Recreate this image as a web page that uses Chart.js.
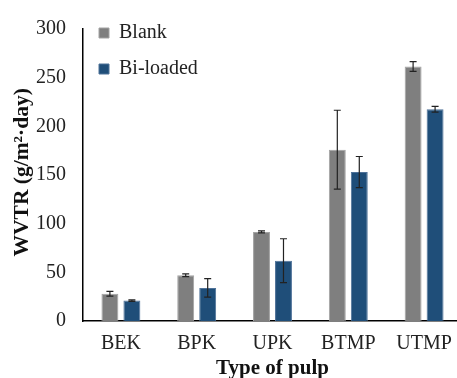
<!DOCTYPE html>
<html>
<head>
<meta charset="utf-8">
<script src="https://cdn.jsdelivr.net/npm/chart.js@4"></script>
<style>
  html, body { margin: 0; padding: 0; background: #fff; overflow: hidden; }
  #box { width: 465px; height: 378px; }
</style>
</head>
<body>
<div id="box"><canvas id="myChart" width="465" height="378"></canvas></div>
<script>
var pulps = ["BEK", "BPK", "UPK", "BTMP", "UTMP"];
var blank = [28, 47, 91.5, 176, 261.5];
var blankErr = [2.5, 1.5, 1, 40.5, 5];
var biLoaded = [21, 34, 62, 153, 217.5];
var biErr = [0.8, 9.5, 22.5, 16, 3];
var yTicks = [0, 50, 100, 150, 200, 250, 300];

var serif = "'Liberation Serif', 'Times New Roman', serif";
var errs = [blankErr, biErr];

// error bars drawn over the bars
var errorBars = {
  id: "errorBars",
  afterDatasetsDraw: function(chart) {
    var ctx = chart.ctx;
    var y = chart.scales.y;
    ctx.save();
    ctx.strokeStyle = "#222";
    ctx.lineWidth = 1.2;
    chart.data.datasets.forEach(function(ds, d) {
      var meta = chart.getDatasetMeta(d);
      meta.data.forEach(function(bar, i) {
        var v = ds.data[i], e = errs[d][i];
        var top = y.getPixelForValue(v + e);
        var bot = y.getPixelForValue(v - e);
        var x = bar.x;
        ctx.beginPath();
        ctx.moveTo(x, top); ctx.lineTo(x, bot);
        ctx.moveTo(x - 3.5, top); ctx.lineTo(x + 3.5, top);
        ctx.moveTo(x - 3.5, bot); ctx.lineTo(x + 3.5, bot);
        ctx.stroke();
      });
    });
    ctx.restore();
  }
};

// put the legend in the top-left corner of the plot
var legendPlace = {
  id: "legendPlace",
  afterLayout: function(chart) {
    if (chart.legend) {
      chart.legend.top = 7;
      chart.legend.left = chart.chartArea.left;
    }
  }
};

var ctx = document.getElementById("myChart").getContext("2d");
var myChart = new Chart(ctx, {
  type: "bar",
  data: {
    labels: pulps,
    datasets: [
      { label: "Blank", data: blank, backgroundColor: "#7f7f7f", borderColor: "#a3a3a3", borderWidth: 1 },
      { label: "Bi-loaded", data: biLoaded, backgroundColor: "#1f4e79", borderColor: "#4f7299", borderWidth: 1 }
    ]
  },
  options: {
    responsive: false,
    animation: false,
    layout: { padding: { top: 21, right: 3, left: 0, bottom: 0 } },
    datasets: { bar: { categoryPercentage: 0.58, barPercentage: 0.77 } },
    plugins: {
      tooltip: { enabled: false },
      legend: {
        position: "chartArea",
        align: "start",
        labels: {
          boxWidth: 10, boxHeight: 10, padding: 16,
          color: "#222",
          font: { family: serif, size: 20 }
        }
      }
    },
    scales: {
      x: {
        grid: { display: false, drawTicks: false },
        border: { display: true, color: "#000", width: 1.5 },
        ticks: { color: "#222", padding: 11, maxRotation: 0, font: { family: serif, size: 20 } },
        title: {
          display: true, text: "Type of pulp", color: "#111",
          font: { family: serif, size: 21, weight: "bold" },
          padding: { top: 0, bottom: -3 }
        },
        afterFit: function(s) { s.height = 57; }
      },
      y: {
        min: 0, max: 300,
        grid: { display: false, drawTicks: false },
        border: { display: true, color: "#000", width: 1.5 },
        afterBuildTicks: function(s) { s.ticks = yTicks.map(function(v) { return { value: v }; }); },
        ticks: { color: "#222", padding: 17, font: { family: serif, size: 20 } },
        title: {
          display: true, text: " WVTR (g/m²·day)", color: "#111",
          font: { family: serif, size: 21.5, weight: "bold" },
          padding: { top: 10, bottom: 0 }
        },
        afterFit: function(s) { s.width = 83; }
      }
    }
  },
  plugins: [errorBars, legendPlace]
});
</script>
</body>
</html>
